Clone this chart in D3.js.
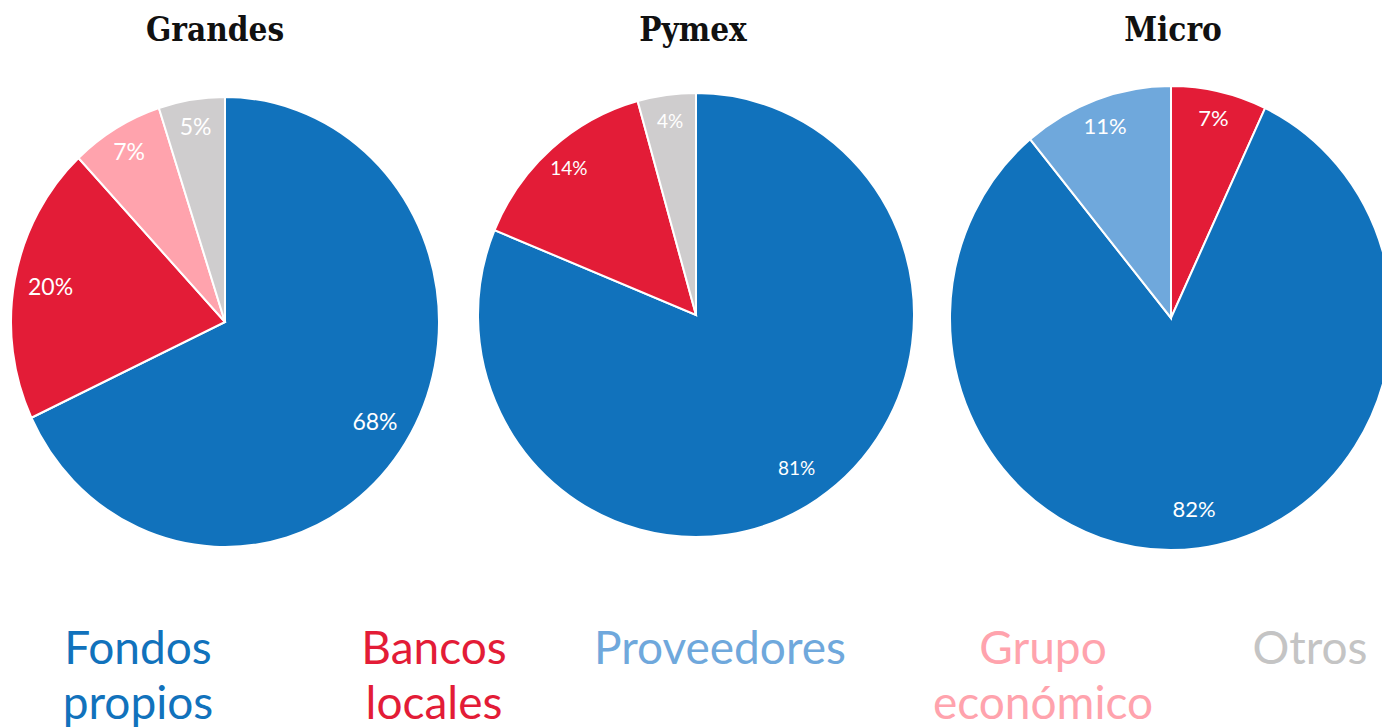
<!DOCTYPE html>
<html>
<head>
<meta charset="utf-8">
<script src="https://cdn.jsdelivr.net/npm/d3@7"></script>
<style>
    body { margin: 0; background: #fff; }
</style>
</head>
<body>
<div id="container"></div>
<script>
// datos
const titles = ['Grandes', 'Pymex', 'Micro'];

const grandesCats   = ['Fondos propios', 'Bancos locales', 'Grupo económico', 'Otros'];
const grandesValues = [68, 20, 7, 5];

const pymexCats     = ['Fondos propios', 'Bancos locales', 'Otros'];
const pymexValues   = [81, 14.4, 4.3];

const microCats     = ['Bancos locales', 'Fondos propios', 'Proveedores'];
const microValues   = [7, 82, 11];

const legendCats = ['Fondos propios', 'Bancos locales', 'Proveedores', 'Grupo económico', 'Otros'];
const legendLines = [['Fondos', 'propios'], ['Bancos', 'locales'], ['Proveedores'], ['Grupo', 'económico'], ['Otros']];

window.onload = function() {
    'use strict';

    const canvas = { width: 1382, height: 728 };

    const color = d3.scaleOrdinal()
        .domain(legendCats)
        .range(['#1172bc', '#e31c37', '#6fa8dc', '#ffa3ad', '#cfcdce']);

    const legendColor = d3.scaleOrdinal()
        .domain(legendCats)
        .range(['#1172bc', '#e31c37', '#6fa8dc', '#ffa3ad', '#c4c4c4']);

    // posiciones de cada torta
    const panels = [
        { cats: grandesCats, values: grandesValues, cx: 225, cy: 322, rx: 214, ry: 225, tx: 215, label: 23 },
        { cats: pymexCats,   values: pymexValues,   cx: 696, cy: 315, rx: 218, ry: 222, tx: 693, label: 19 },
        { cats: microCats,   values: microValues,   cx: 1171, cy: 318, rx: 221, ry: 232, tx: 1173, label: 22 }
    ];

    const svg = d3.select('#container')
        .append('svg')
        .attr('width', canvas.width)
        .attr('height', canvas.height);

    const pie = d3.pie().sort(null).value(d => d.value);

    panels.forEach((p, i) => {
        const data = p.cats.map((c, j) => ({ cat: c, value: p.values[j] }));
        const arcs = pie(data);
        const arc = d3.arc().innerRadius(0).outerRadius(p.rx);
        // las etiquetas de las tajadas chicas van mas afuera
        const labelPos = d => {
            const k = d.data.value < 15 ? 0.88 : 0.83;
            const r = p.rx * k;
            return d3.arc().innerRadius(r).outerRadius(r).centroid(d);
        };

        svg.append('text')
            .attr('x', p.tx)
            .attr('y', 41)
            .attr('text-anchor', 'middle')
            .attr('font-family', '"DejaVu Serif Condensed", "DejaVu Serif", serif')
            .attr('font-weight', 'bold')
            .attr('font-size', 33)
            .attr('fill', '#111')
            .text(titles[i]);

        const g = svg.append('g')
            .attr('transform', `translate(${p.cx},${p.cy}) scale(1,${p.ry / p.rx})`);

        g.selectAll('path')
            .data(arcs)
            .enter()
            .append('path')
            .attr('d', arc)
            .attr('fill', d => color(d.data.cat))
            .attr('stroke', '#fff')
            .attr('stroke-width', 2);

        svg.append('g')
            .attr('transform', `translate(${p.cx},${p.cy})`)
            .selectAll('text')
            .data(arcs)
            .enter()
            .append('text')
            .attr('x', d => labelPos(d)[0])
            .attr('y', d => labelPos(d)[1] * p.ry / p.rx)
            .attr('dy', '0.35em')
            .attr('text-anchor', 'middle')
            .attr('font-family', 'Lato, sans-serif')
            .attr('font-size', p.label)
            .attr('fill', '#fff')
            .text(d => Math.round(d.data.value) + '%');
    });

    // leyenda
    const legendPos = [138, 434, 720, 1043, 1310];

    legendCats.forEach((c, i) => {
        const t = svg.append('text')
            .attr('x', legendPos[i])
            .attr('y', 664)
            .attr('text-anchor', 'middle')
            .attr('font-family', 'Lato, sans-serif')
            .attr('font-size', 46)
            .attr('fill', legendColor(c));
        legendLines[i].forEach((line, k) => {
            t.append('tspan')
                .attr('x', legendPos[i])
                .attr('dy', k === 0 ? 0 : 55)
                .text(line);
        });
    });
};
</script>
</body>
</html>
